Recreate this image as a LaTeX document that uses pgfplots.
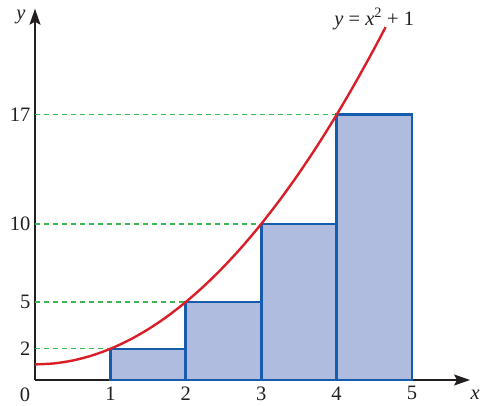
\documentclass[border=0pt]{standalone}
\usepackage{fontspec}
\setmainfont{Liberation Serif}
\usepackage{pgfplots}
\pgfplotsset{compat=1.18}
\usetikzlibrary{arrows.meta}
\definecolor{axisgray}{RGB}{35,31,32}
\definecolor{barfill}{RGB}{175,188,224}
\definecolor{baredge}{RGB}{22,92,172}
\definecolor{curvered}{RGB}{218,30,40}
\definecolor{dashgreen}{RGB}{60,182,80}
\begin{document}
\begin{tikzpicture}
\useasboundingbox (-35pt,-25pt) rectangle (445pt,380pt);
\begin{axis}[
  anchor=origin, at={(0pt,0pt)},
  x=75.4pt, y=15.6pt,
  xmin=0, xmax=5.77, ymin=0, ymax=23.8,
  axis x line=bottom, axis y line=left,
  axis line style={-{Stealth[length=16pt,width=11pt,inset=3pt]}, line width=1.5pt, draw=axisgray},
  major tick length=0pt,
  xtick={1,2,3,4,5}, ytick={2,5,10,17},
  tick label style={font=\fontsize{20.5}{20.5}\selectfont, text=axisgray},
  /pgf/number format/assume math mode=true,
  xticklabel style={yshift=-3pt},
  yticklabel style={xshift=-1pt},
  clip=false,
]
\addplot[ybar interval, fill=barfill, draw=baredge, line width=2.6pt]
  coordinates {(1,2) (2,5) (3,10) (4,17) (5,17)};
\addplot[dashgreen, line width=1.1pt, dash pattern=on 5pt off 4pt] coordinates {(0,2) (1,2)};
\addplot[dashgreen, line width=1.1pt, dash pattern=on 5pt off 4pt] coordinates {(0,5) (2,5)};
\addplot[dashgreen, line width=1.1pt, dash pattern=on 5pt off 4pt] coordinates {(0,10) (3,10)};
\addplot[dashgreen, line width=1.1pt, dash pattern=on 5pt off 4pt] coordinates {(0,17) (4,17)};
\addplot[curvered, line width=2.4pt, smooth] coordinates {
 (0,1) (0.25,1.0625) (0.5,1.25) (0.75,1.5625) (1,2) (1.25,2.5625) (1.5,3.25)
 (1.75,4.0625) (2,5) (2.25,6.0625) (2.5,7.25) (2.75,8.5625) (3,10) (3.25,11.5625)
 (3.5,13.25) (3.75,15.0625) (4,17) (4.25,19.0625) (4.5,21.25) (4.65,22.6225)};
\node[text=axisgray, font=\fontsize{20.5}{20.5}\selectfont] at (axis cs:0,0) [xshift=-10pt, yshift=-15pt] {0};
\node[text=axisgray, font=\fontsize{20.5}{20.5}\selectfont] at (axis cs:5.77,0) [xshift=5pt, yshift=-15pt] {\textit{x}};
\node[text=axisgray, font=\fontsize{20.5}{20.5}\selectfont] at (axis cs:0,23.8) [xshift=-14pt, yshift=-8pt] {\textit{y}};
\node[text=axisgray, font=\fontsize{20.5}{20.5}\selectfont] at (axis cs:4.5,23.8) [xshift=0pt, yshift=-10pt] {\textit{y} = \textit{x}\textsuperscript{2} + 1};
\end{axis}
\end{tikzpicture}
\end{document}
